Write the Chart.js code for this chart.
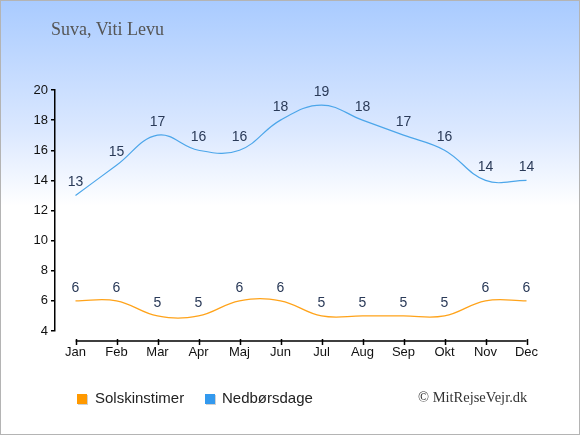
<!DOCTYPE html>
<html>
<head>
<meta charset="utf-8">
<script src="https://cdn.jsdelivr.net/npm/chart.js@4/dist/chart.umd.min.js"></script>
<style>
  html, body { margin: 0; padding: 0; background: #fff; }
  #wrap {
    position: relative; width: 580px; height: 435px; box-sizing: border-box;
    border: 1px solid #b4b4b4;
    background: linear-gradient(to bottom, #a9cbff 0px, #dbe8ff 130px, #ffffff 205px, #ffffff 435px);
    overflow: hidden;
  }
  #chart { position: absolute; left: -1px; top: -1px; width: 580px; height: 435px; }
  #title {
    position: absolute; left: 50px; top: 18px; font-family: "Liberation Serif", "DejaVu Serif", serif;
    font-size: 18px; color: #555; white-space: nowrap;
  }
  #legend { position: absolute; left: 0; top: 388px; font-family: "Liberation Sans", Arial, sans-serif; font-size: 15px; color: #222; }
  .item { position: absolute; white-space: nowrap; }
  .sw { position: absolute; width: 10px; height: 10px; box-shadow: 1px 1px 0 rgba(0,0,0,0.18); top: 5px; }
  #copy {
    position: absolute; left: 417px; top: 388px; font-family: "Liberation Serif", "DejaVu Serif", serif;
    font-size: 14.5px; color: #333; white-space: nowrap;
  }
</style>
</head>
<body>
<div id="wrap">
  <canvas id="chart" width="580" height="435"></canvas>
  <div id="title">Suva, Viti Levu</div>
  <div id="legend"></div>
  <div id="copy">© MitRejseVejr.dk</div>
</div>
<script>
const months = ["Jan","Feb","Mar","Apr","Maj","Jun","Jul","Aug","Sep","Okt","Nov","Dec"];
const sunHours = [6,6,5,5,6,6,5,5,5,5,6,6];
const rainDays = [13,15,17,16,16,18,19,18,17,16,14,14];
const seriesNames = ["Solskinstimer","Nedbørsdage"];
const lineColors = ["#ffa31a","#4ca6ea"];
const legendColors = ["#ff9900","#3399ee"];
const yTicks = [4,6,8,10,12,14,16,18,20];

// HTML legend from the series
const legendPos = [{sw:77, tx:95},{sw:205, tx:222}];
const legendEl = document.getElementById('legend');
seriesNames.forEach((n,i) => {
  const it = document.createElement('div');
  it.className = 'item';
  it.style.left = '0px';
  it.innerHTML = '<span class="sw" style="left:'+(legendPos[i].sw-1)+'px;background:'+legendColors[i]+'"></span>' +
    '<span style="position:absolute;left:'+(legendPos[i].tx-1)+'px;top:0">'+n+'</span>';
  legendEl.appendChild(it);
});

const overlay = {
  id: 'overlay',
  afterDatasetsDraw(chart) {
    const ctx = chart.ctx;
    const x = chart.scales.x;
    const area = chart.chartArea;
    const yAxis = area.bottom + 10;
    ctx.save();
    ctx.strokeStyle = '#000';
    ctx.lineWidth = 1.5;
    const x0 = x.getPixelForValue(0), x1 = x.getPixelForValue(months.length - 1);
    ctx.beginPath();
    ctx.moveTo(x0, yAxis); ctx.lineTo(x1, yAxis);
    for (let i = 0; i < months.length; i++) {
      const px = Math.round(x.getPixelForValue(i)) + 0.5;
      ctx.moveTo(px, yAxis - 2); ctx.lineTo(px, yAxis + 4);
    }
    ctx.stroke();
    ctx.font = '14px "Liberation Sans", Arial, sans-serif';
    ctx.fillStyle = '#2a3a58';
    ctx.textAlign = 'center';
    ctx.textBaseline = 'alphabetic';
    chart.data.datasets.forEach((ds, di) => {
      const meta = chart.getDatasetMeta(di);
      meta.data.forEach((pt, i) => {
        ctx.fillText(String(ds.data[i]), pt.x, pt.y - 9);
      });
    });
    ctx.restore();
  }
};

new Chart(document.getElementById('chart'), {
  type: 'line',
  data: {
    labels: months,
    datasets: [
      { label: seriesNames[0], data: sunHours, borderColor: lineColors[0], borderWidth: 1.2, pointRadius: 0, tension: 0.4, fill: false },
      { label: seriesNames[1], data: rainDays, borderColor: lineColors[1], borderWidth: 1.2, pointRadius: 0, tension: 0.4, fill: false }
    ]
  },
  options: {
    responsive: false,
    animation: false,
    devicePixelRatio: 1,
    layout: { padding: { top: 90, right: 33, left: 0, bottom: 0 } },
    plugins: { legend: { display: false }, title: { display: false }, tooltip: { enabled: false } },
    scales: {
      x: {
        type: 'category',
        offset: true,
        grid: { display: false, drawTicks: false },
        border: { display: false },
        ticks: { color: '#111', padding: 14, font: { size: 13, family: '"Liberation Sans", Arial, sans-serif' }, maxRotation: 0 },
        afterFit(scale) { scale.height = 104; }
      },
      y: {
        min: 4, max: 20,
        afterBuildTicks(scale) { scale.ticks = yTicks.map(v => ({ value: v })); },
        grid: { display: true, drawOnChartArea: false, drawTicks: true, tickLength: 4, color: '#000', lineWidth: 1.5 },
        border: { display: true, color: '#000', width: 1.5 },
        ticks: { color: '#111', padding: 3, font: { size: 13, family: '"Liberation Sans", Arial, sans-serif' } },
        afterFit(scale) { scale.width = 55; }
      }
    }
  },
  plugins: [overlay]
});
</script>
</body>
</html>
